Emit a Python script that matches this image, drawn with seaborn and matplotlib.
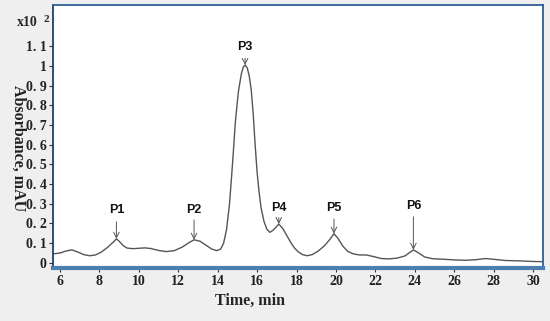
import numpy as np
import pandas as pd
import matplotlib
matplotlib.use("Agg")
import matplotlib.pyplot as plt
import seaborn as sns

# chromatogram (time in min, absorbance in x10^2 mAU)
time_min = [5.7, 6.0, 6.3, 6.6, 6.9, 7.2, 7.5, 7.8, 8.1, 8.4, 8.7, 8.86, 9.0, 9.2,
            9.4, 9.7, 10.0, 10.3, 10.6, 11.0, 11.4, 11.8, 12.2, 12.5, 12.8, 13.1,
            13.4, 13.7, 13.95, 14.15, 14.3, 14.45, 14.6, 14.75, 14.9, 15.05, 15.2,
            15.3, 15.39, 15.5, 15.6, 15.7, 15.8, 15.9, 16.0, 16.1, 16.2, 16.35,
            16.5, 16.65, 16.8, 16.95, 17.1, 17.3, 17.5, 17.7, 17.9, 18.1, 18.3,
            18.55, 18.8, 19.1, 19.4, 19.7, 19.9, 20.1, 20.35, 20.6, 20.9, 21.2,
            21.55, 21.9, 22.3, 22.7, 23.1, 23.5, 23.93, 24.2, 24.5, 24.9, 25.5,
            26.0, 26.6, 27.1, 27.6, 28.0, 28.6, 29.3, 30.0, 30.5]
absorbance = [0.046, 0.05, 0.06, 0.066, 0.055, 0.042, 0.036, 0.04, 0.055, 0.078,
              0.105, 0.122, 0.11, 0.088, 0.075, 0.072, 0.074, 0.076, 0.073, 0.063,
              0.057, 0.062, 0.08, 0.1, 0.117, 0.11, 0.09, 0.07, 0.062, 0.07, 0.1,
              0.17, 0.3, 0.5, 0.72, 0.87, 0.96, 0.995, 1.005, 0.99, 0.95, 0.88,
              0.76, 0.6, 0.46, 0.36, 0.28, 0.21, 0.17, 0.155, 0.165, 0.18, 0.197,
              0.175, 0.14, 0.105, 0.075, 0.055, 0.042, 0.036, 0.042, 0.06, 0.085,
              0.12, 0.148, 0.125, 0.085, 0.058, 0.045, 0.04, 0.04, 0.032, 0.022,
              0.02, 0.024, 0.035, 0.066, 0.05, 0.03, 0.021, 0.018, 0.015, 0.013,
              0.016, 0.022, 0.018, 0.012, 0.01, 0.007, 0.006]

peak_names = ["P1", "P2", "P3", "P4", "P5", "P6"]
peak_times = [8.86, 12.8, 15.39, 17.1, 19.9, 23.93]

x_ticks = [6, 8, 10, 12, 14, 16, 18, 20, 22, 24, 26, 28, 30]
y_ticks = [0, 0.1, 0.2, 0.3, 0.4, 0.5, 0.6, 0.7, 0.8, 0.9, 1.0, 1.1]
y_tick_labels = ["0", "0. 1", "0. 2", "0. 3", "0. 4", "0. 5", "0. 6", "0. 7",
                 "0. 8", "0. 9", "1", "1. 1"]

df = pd.DataFrame({"time": time_min, "abs": absorbance})

sns.set_style("white")
plt.rcParams["font.family"] = ["DejaVu Serif"]

fig = plt.figure(figsize=(5.5, 3.21), dpi=100, facecolor="#efefef")
ax = fig.add_axes([0.097, 0.164, 0.89, 0.821])
ax.set_facecolor("white")

sns.lineplot(data=df, x="time", y="abs", color="#555555", linewidth=1.0, ax=ax)

ax.set_xlim(5.66, 30.5)
ax.set_ylim(-0.028, 1.311)
ax.set_xticks(x_ticks)
ax.set_xticklabels([str(t) for t in x_ticks], fontsize=10, fontweight="bold",
                   family="Liberation Serif")
ax.set_yticks(y_ticks)
ax.set_yticklabels(y_tick_labels, fontsize=10, fontweight="bold",
                   family="Liberation Serif")
ax.tick_params(axis="both", direction="out", length=3, width=0.8,
               color="#333333", pad=2, labelcolor="#222222")
ax.tick_params(axis="x", bottom=True)
ax.tick_params(axis="y", left=True)
ax.set_xlabel("")
ax.set_ylabel("")

for side in ["top", "right", "left"]:
    ax.spines[side].set_color("#2f5f95")
    ax.spines[side].set_linewidth(1.3)
ax.spines["left"].set_color("#1f3f6a")
ax.spines["bottom"].set_color("#4a7fb0")
ax.spines["bottom"].set_linewidth(3)

# peak labels with arrows
label_y = [0.27, 0.27, 1.096, 0.28, 0.28, 0.29]
arrow_top = [0.208, 0.218, 1.04, 0.23, 0.223, 0.234]
for name, t, ly, at in zip(peak_names, peak_times, label_y, arrow_top):
    py = np.interp(t, time_min, absorbance)
    ax.annotate("", xy=(t, py), xytext=(t, at),
                arrowprops=dict(arrowstyle="->", color="#555555", lw=0.7,
                                shrinkA=0, shrinkB=0))
    ax.text(t, ly, name, ha="center", va="center", fontsize=9,
            fontweight="bold", family="Liberation Sans", color="#111111")

fig.text(250 / 550, 1 - 301 / 321, "Time, min", ha="center", va="center",
         fontsize=11.5, fontweight="bold", family="Liberation Serif")
fig.text(18 / 550, 1 - 148 / 321, "Absorbance, mAU", ha="center", va="center",
         rotation=-90, fontsize=11.5, fontweight="bold", family="Liberation Serif",
         color="#222222")
fig.text(17 / 550, 1 - 23 / 321, "x10", ha="left", va="center",
         fontsize=10, fontweight="bold", family="Liberation Serif")
fig.text(44 / 550, 1 - 19 / 321, "2", ha="left", va="center",
         fontsize=8, fontweight="bold", family="Liberation Serif")

fig.savefig("out.png", dpi=100, facecolor=fig.get_facecolor())
